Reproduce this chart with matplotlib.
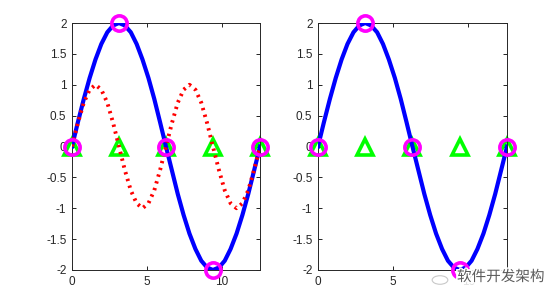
import matplotlib
matplotlib.use("Agg")
import matplotlib.pyplot as plt
import matplotlib.patheffects as pe
from matplotlib.patches import Circle

# ------------------------------------------------------------------
# Data (samples every ~pi/8)
# ------------------------------------------------------------------
x = [0.00, 0.39, 0.79, 1.18, 1.57, 1.96, 2.36, 2.75, 3.14, 3.53, 3.93,
     4.32, 4.71, 5.11, 5.50, 5.89, 6.28, 6.68, 7.07, 7.46, 7.85, 8.25,
     8.64, 9.03, 9.42, 9.82, 10.21, 10.60, 11.00, 11.39, 11.78, 12.17, 12.57]

y_blue = [0.00, 0.39, 0.77, 1.11, 1.41, 1.66, 1.85, 1.96, 2.00, 1.96, 1.85,
          1.66, 1.41, 1.11, 0.77, 0.39, 0.00, -0.39, -0.77, -1.11, -1.41, -1.66,
          -1.85, -1.96, -2.00, -1.96, -1.85, -1.66, -1.41, -1.11, -0.77, -0.39, 0.00]

y_red = [0.00, 0.38, 0.71, 0.92, 1.00, 0.92, 0.71, 0.38, 0.00, -0.38, -0.71,
         -0.92, -1.00, -0.92, -0.71, -0.38, 0.00, 0.38, 0.71, 0.92, 1.00, 0.92,
         0.71, 0.38, 0.00, -0.38, -0.71, -0.92, -1.00, -0.92, -0.71, -0.38, 0.00]

x_marks = [0.00, 3.14, 6.28, 9.42, 12.57]
y_circles = [0, 2, 0, -2, 0]
y_triangles = [0, 0, 0, 0, 0]

x_ticks = [0, 5, 10]
y_ticks = [-2, -1.5, -1, -0.5, 0, 0.5, 1, 1.5, 2]
y_tick_labels = ["-2", "-1.5", "-1", "-0.5", "0", "0.5", "1", "1.5", "2"]

plt.rcParams["font.family"] = ["Liberation Sans", "DejaVu Sans"]
plt.rcParams["axes.unicode_minus"] = False

fig = plt.figure(figsize=(5.6, 3.05), dpi=100)
ax_left = fig.add_axes([72 / 560, 35 / 305, 188 / 560, 247 / 305])
ax_right = fig.add_axes([318 / 560, 35 / 305, 189 / 560, 247 / 305])


def style_axes(ax):
    ax.set_xlim(0, 12.566)
    ax.set_ylim(-2, 2)
    ax.set_xticks(x_ticks)
    ax.set_yticks(y_ticks)
    ax.set_yticklabels(y_tick_labels)
    ax.tick_params(direction="in", top=True, right=True, length=3, width=0.6,
                   labelsize=8.5, labelcolor="#262626", pad=4)
    for s in ax.spines.values():
        s.set_linewidth(0.7)
        s.set_color("#262626")


def draw_markers(ax):
    ax.plot(x_marks, y_triangles, linestyle="none", marker="^", markersize=11.5,
            markerfacecolor="none", markeredgecolor=(0, 1, 0), markeredgewidth=2.6,
            clip_on=False, zorder=2)
    ax.plot(x_marks, y_circles, linestyle="none", marker="o", markersize=11,
            markerfacecolor="none", markeredgecolor=(1, 0, 1), markeredgewidth=2.6,
            clip_on=False, zorder=5)


# left panel: both curves
ax_left.plot(x, y_blue, color=(0, 0, 1), linewidth=3, zorder=3)
ax_left.plot(x, y_red, color=(1, 0, 0), linewidth=2.8, linestyle=(0, (0.6, 1.2)),
             zorder=4)
draw_markers(ax_left)
style_axes(ax_left)

# right panel: blue curve only
ax_right.plot(x, y_blue, color=(0, 0, 1), linewidth=3, zorder=3)
draw_markers(ax_right)
style_axes(ax_right)

# watermark
fig.text(457 / 560, 1 - 277 / 305, "软件开发架构", family=["Noto Sans CJK SC", "DejaVu Sans"],
         fontsize=10.5, color="#5a5a5a", ha="left", va="center", zorder=10,
         path_effects=[pe.withStroke(linewidth=2, foreground="white")],
         bbox=dict(facecolor="white", edgecolor="none", alpha=0.85, pad=0.5))
fig.patches.append(Circle((440 / 560, 1 - 280 / 305), 0.014, transform=fig.transFigure,
                          facecolor="none", edgecolor="#c8c8c8", linewidth=0.8,
                          zorder=10))

fig.savefig("out.png", dpi=100)
